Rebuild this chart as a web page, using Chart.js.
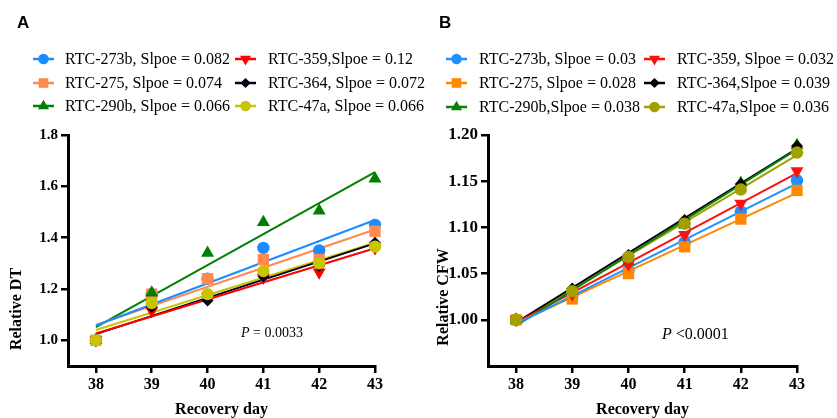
<!DOCTYPE html>
<html><head><meta charset="utf-8">
<script src="https://cdn.jsdelivr.net/npm/chart.js@4.4.0/dist/chart.umd.min.js"></script>
<style>
html,body{margin:0;padding:0;background:#fff;}
#wrap{position:relative;width:837px;height:418px;overflow:hidden;background:#fff;}
canvas{position:absolute;top:0;}
</style></head><body>
<div id="wrap">
<canvas id="cA" width="445" height="418" style="left:0px"></canvas>
<canvas id="cB" width="417" height="418" style="left:420px"></canvas>
</div>
<script>
// ---------- DATA ----------
const days = [38, 39, 40, 41, 42, 43];
const dayTicks = [38, 39, 40, 41, 42, 43];
const dtTicks = [1.0, 1.2, 1.4, 1.6, 1.8];
const cfwTicks = [1.00, 1.05, 1.10, 1.15, 1.20];

// Panel A: Relative DT
const dt273b = [1.00, 1.18, 1.24, 1.36, 1.35, 1.45];
const dt275  = [1.00, 1.18, 1.24, 1.315, 1.315, 1.425];
const dt290b = [1.00, 1.185, 1.34, 1.46, 1.505, 1.63];
const dt359  = [1.00, 1.115, 1.17, 1.245, 1.265, 1.36];
const dt364  = [1.00, 1.13, 1.155, 1.25, 1.29, 1.38];
const dt47a  = [1.00, 1.145, 1.18, 1.27, 1.30, 1.365];
const dtLegend = ['RTC-273b, Slpoe = 0.082', 'RTC-275, Slpoe = 0.074', 'RTC-290b, Slpoe = 0.066',
                  'RTC-359,Slpoe = 0.12', 'RTC-364, Slpoe = 0.072', 'RTC-47a, Slpoe = 0.066'];

// Panel B: Relative CFW
const cfw273b = [1.00, 1.024, 1.053, 1.084, 1.117, 1.151];
const cfw275  = [1.00, 1.0225, 1.050, 1.079, 1.109, 1.140];
const cfw290b = [1.00, 1.031, 1.063, 1.103, 1.148, 1.189];
const cfw359  = [1.00, 1.028, 1.060, 1.092, 1.126, 1.161];
const cfw364  = [1.00, 1.034, 1.070, 1.108, 1.147, 1.188];
const cfw47a  = [1.00, 1.031, 1.068, 1.104, 1.141, 1.181];
const cfwLegend = ['RTC-273b, Slpoe = 0.03', 'RTC-275, Slpoe = 0.028', 'RTC-290b,Slpoe = 0.038',
                   'RTC-359, Slpoe = 0.032', 'RTC-364,Slpoe = 0.039', 'RTC-47a,Slpoe = 0.036'];

// ---------- STYLE ----------
const markers = [
  {style: 'circle', r: 6.2, rot: 0},
  {style: 'rect', r: 8, rot: 0},
  {style: 'triangle', r: 7.5, rot: 0},
  {style: 'triangle', r: 7.5, rot: 180},
  {style: 'rectRot', r: 6, rot: 0},
  {style: 'circle', r: 6.2, rot: 0}
];
const colorsA = ['#1a8cff', '#ff8a50', '#008000', '#ff0000', '#00001a', '#c8c400'];
const colorsB = ['#1e90ff', '#ff8800', '#0a800a', '#ff1010', '#000000', '#a3a000'];

function regression(xs, ys) {
  const n = xs.length;
  const mx = xs.reduce((a, b) => a + b, 0) / n;
  const my = ys.reduce((a, b) => a + b, 0) / n;
  let sxy = 0, sxx = 0;
  for (let i = 0; i < n; i++) { sxy += (xs[i] - mx) * (ys[i] - my); sxx += (xs[i] - mx) ** 2; }
  const m = sxy / sxx;
  const b = my - m * mx;
  return [{x: xs[0], y: m * xs[0] + b}, {x: xs[n - 1], y: m * xs[n - 1] + b}];
}

function drawMarker(ctx, style, x, y, r, rot, color) {
  ctx.save();
  ctx.fillStyle = color;
  ctx.beginPath();
  const rad = rot * Math.PI / 180;
  if (style === 'circle') {
    ctx.arc(x, y, r, 0, Math.PI * 2);
  } else if (style === 'rect') {
    const s = Math.SQRT1_2 * r;
    ctx.rect(x - s, y - s, 2 * s, 2 * s);
  } else if (style === 'triangle') {
    let a = rad;
    ctx.moveTo(x + Math.sin(a) * r, y - Math.cos(a) * r);
    a += 2 * Math.PI / 3;
    ctx.lineTo(x + Math.sin(a) * r, y - Math.cos(a) * r);
    a += 2 * Math.PI / 3;
    ctx.lineTo(x + Math.sin(a) * r, y - Math.cos(a) * r);
    ctx.closePath();
  } else if (style === 'rectRot') {
    ctx.moveTo(x, y - r); ctx.lineTo(x + r, y); ctx.lineTo(x, y + r); ctx.lineTo(x - r, y);
    ctx.closePath();
  }
  ctx.fill();
  ctx.restore();
}

const SERIF = '"Liberation Serif", "Times New Roman", serif';
const SANS = '"Liberation Sans", Arial, sans-serif';

function decorPlugin(cfg) {
  return {
    id: 'decor',
    afterDraw(chart) {
      const ctx = chart.ctx;
      ctx.save();
      // panel letter
      ctx.fillStyle = '#000';
      ctx.font = 'bold 17px ' + SANS;
      ctx.textBaseline = 'middle';
      ctx.textAlign = 'left';
      ctx.fillText(cfg.letter, cfg.letterX, 23);
      // legend
      ctx.font = '16px ' + SERIF;
      cfg.legend.forEach((txt, i) => {
        const col = Math.floor(i / 3), row = i % 3;
        const y = cfg.rows[row];
        const lx = cfg.cols[col];
        ctx.strokeStyle = cfg.colors[i];
        ctx.lineWidth = 2.5;
        ctx.beginPath(); ctx.moveTo(lx, y); ctx.lineTo(lx + 21, y); ctx.stroke();
        const mk = markers[i];
        drawMarker(ctx, mk.style, lx + 10.5, y, mk.r * 0.85, mk.rot, cfg.colors[i]);
        ctx.fillStyle = '#000';
        ctx.textAlign = 'left';
        ctx.textBaseline = 'middle';
        ctx.fillText(txt, cfg.textCols[col], y + 1);
      });
      // y axis title
      ctx.save();
      ctx.translate(cfg.yTitleX, cfg.yTitleY);
      ctx.rotate(-Math.PI / 2);
      ctx.font = 'bold 16px ' + SERIF;
      ctx.textAlign = 'center';
      ctx.textBaseline = 'middle';
      ctx.fillText(cfg.yTitle, 0, 0);
      ctx.restore();
      // x axis title
      const ca = chart.chartArea;
      ctx.font = 'bold 16px ' + SERIF;
      ctx.textAlign = 'center';
      ctx.textBaseline = 'alphabetic';
      ctx.fillText('Recovery day', (ca.left + ca.right) / 2, 414);
      // P text
      ctx.font = 'italic ' + cfg.pSize + 'px ' + SERIF;
      ctx.textAlign = 'left';
      ctx.textBaseline = 'middle';
      const w1 = ctx.measureText('P').width;
      ctx.fillText('P', cfg.pX, cfg.pY);
      ctx.font = cfg.pSize + 'px ' + SERIF;
      ctx.fillText(cfg.pRest, cfg.pX + w1, cfg.pY);
      ctx.restore();
    }
  };
}

function makeChart(id, cfg) {
  const datasets = [];
  cfg.series.forEach((ys, i) => {
    const mk = markers[i];
    datasets.push({
      data: days.map((d, j) => ({x: d, y: ys[j]})),
      showLine: false,
      pointStyle: mk.style,
      pointRadius: mk.r,
      pointRotation: mk.rot,
      pointBackgroundColor: cfg.colors[i],
      pointBorderColor: cfg.colors[i],
      pointBorderWidth: 0,
      clip: false,
      order: 1 + (5 - i) * 0.1
    });
    datasets.push({
      data: regression(days, ys),
      showLine: true,
      borderColor: cfg.colors[i],
      borderWidth: 2,
      pointRadius: 0,
      fill: false,
      clip: false,
      order: 10
    });
  });
  const tickColor = '#000';
  return new Chart(document.getElementById(id), {
    type: 'scatter',
    data: {datasets},
    options: {
      responsive: false,
      animation: false,
      events: [],
      devicePixelRatio: 1,
      layout: {padding: {top: 135, right: cfg.rightPad, left: 0, bottom: 0}},
      plugins: {legend: {display: false}, tooltip: {enabled: false}},
      scales: {
        x: {
          type: 'linear', min: 37.5, max: 43,
          afterBuildTicks: s => { s.ticks = dayTicks.map(v => ({value: v})); },
          afterFit: s => { s.height = 52; },
          ticks: {color: tickColor, font: {family: SERIF, weight: 'bold', size: 16}, padding: 2,
                  autoSkip: false, maxRotation: 0, callback: v => String(v)},
          grid: {display: true, drawOnChartArea: false, drawTicks: true, tickLength: 7,
                 color: '#000', lineWidth: 2.5},
          border: {display: true, color: '#000', width: 3}
        },
        y: {
          type: 'linear', min: cfg.yMin, max: cfg.yMax,
          afterBuildTicks: s => { s.ticks = cfg.yTicks.map(v => ({value: v})); },
          afterFit: s => { s.width = 68; },
          ticks: {color: tickColor, font: {family: SERIF, weight: 'bold', size: cfg.yTickSize}, padding: 3,
                  autoSkip: false, callback: v => v.toFixed(cfg.dec)},
          grid: {display: true, drawOnChartArea: false, drawTicks: true, tickLength: 7,
                 color: '#000', lineWidth: 2.5},
          border: {display: true, color: '#000', width: 3}
        }
      }
    },
    plugins: [decorPlugin(cfg)]
  });
}

makeChart('cA', {
  series: [dt273b, dt275, dt290b, dt359, dt364, dt47a],
  colors: colorsA, legend: dtLegend,
  yMin: 0.9, yMax: 1.8, yTicks: dtTicks, dec: 1, yTickSize: 15,
  rightPad: 70,
  letter: 'A', letterX: 17,
  rows: [59, 83, 106], cols: [33, 235], textCols: [65, 268],
  yTitle: 'Relative DT', yTitleX: 17, yTitleY: 309,
  pX: 241, pY: 333, pSize: 14, pRest: ' = 0.0033'
});
makeChart('cB', {
  series: [cfw273b, cfw275, cfw290b, cfw359, cfw364, cfw47a],
  colors: colorsB, legend: cfwLegend,
  yMin: 0.95, yMax: 1.2, yTicks: cfwTicks, dec: 2, yTickSize: 17,
  rightPad: 40,
  letter: 'B', letterX: 19,
  rows: [59, 83, 107], cols: [26, 224], textCols: [59, 257],
  yTitle: 'Relative CFW', yTitleX: 24, yTitleY: 297,
  pX: 242, pY: 335, pSize: 16, pRest: ' <0.0001'
});
</script>
</body></html>
